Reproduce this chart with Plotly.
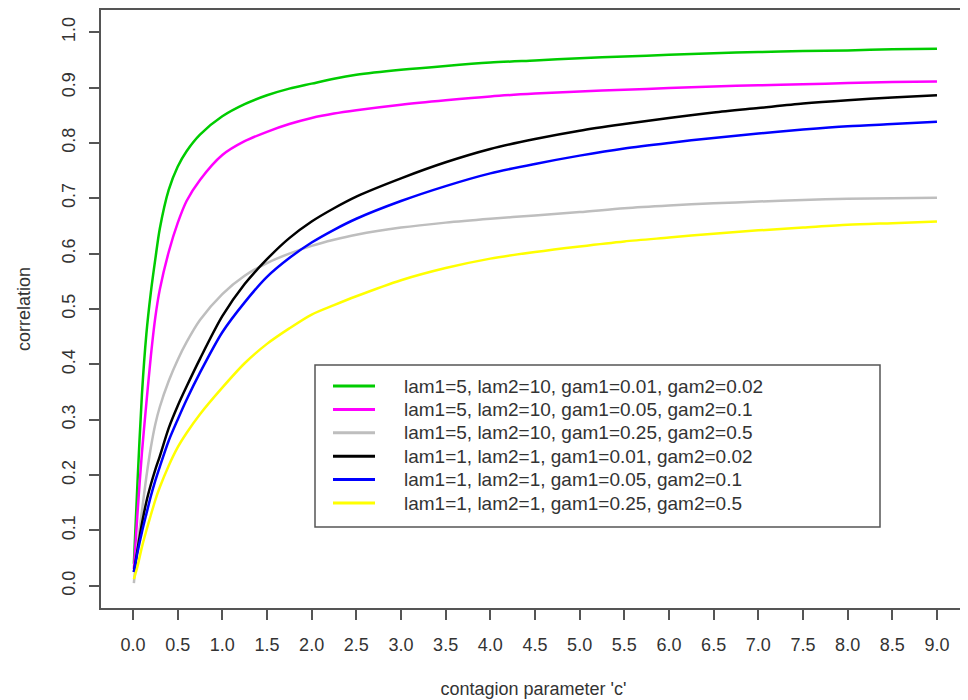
import plotly.graph_objects as go

# ---------------- data ----------------
c_values = [0.01, 0.05, 0.1, 0.15, 0.2, 0.25, 0.3, 0.4, 0.5, 0.6, 0.75, 1.0, 1.25, 1.5, 1.75,
            2.0, 2.25, 2.5, 3.0, 3.5, 4.0, 4.5, 5.0, 5.5, 6.0, 6.5, 7.0, 7.5, 8.0, 8.5, 9.0]

corr_l5_10_g001_002 = [0.04, 0.185, 0.345, 0.455, 0.53, 0.59, 0.645, 0.715, 0.757, 0.785, 0.815,
                       0.848, 0.87, 0.886, 0.898, 0.907, 0.916, 0.923, 0.932, 0.939, 0.945,
                       0.949, 0.953, 0.956, 0.959, 0.962, 0.964, 0.966, 0.967, 0.969, 0.970]
corr_l5_10_g005_01 = [0.03, 0.13, 0.24, 0.33, 0.415, 0.485, 0.535, 0.603, 0.655, 0.695, 0.733,
                      0.778, 0.803, 0.82, 0.834, 0.845, 0.853, 0.859, 0.869, 0.877, 0.884,
                      0.889, 0.893, 0.896, 0.899, 0.902, 0.904, 0.906, 0.908, 0.910, 0.911]
corr_l5_10_g025_05 = [0.005, 0.07, 0.135, 0.197, 0.25, 0.292, 0.323, 0.37, 0.408, 0.44, 0.48,
                      0.527, 0.56, 0.583, 0.6, 0.614, 0.625, 0.634, 0.647, 0.656, 0.663,
                      0.669, 0.675, 0.682, 0.687, 0.691, 0.694, 0.697, 0.699, 0.700, 0.701]
corr_l1_1_g001_002 = [0.025, 0.065, 0.112, 0.152, 0.183, 0.21, 0.234, 0.285, 0.325, 0.36, 0.41,
                      0.487, 0.545, 0.59, 0.628, 0.658, 0.682, 0.703, 0.736, 0.765, 0.789,
                      0.807, 0.822, 0.834, 0.845, 0.855, 0.863, 0.871, 0.877, 0.882, 0.886]
corr_l1_1_g005_01 = [0.025, 0.06, 0.097, 0.13, 0.162, 0.19, 0.215, 0.262, 0.3, 0.336, 0.385,
                     0.458, 0.512, 0.558, 0.592, 0.62, 0.643, 0.663, 0.695, 0.722, 0.745,
                     0.762, 0.777, 0.79, 0.80, 0.809, 0.817, 0.824, 0.83, 0.834, 0.838]
corr_l1_1_g025_05 = [0.012, 0.035, 0.07, 0.1, 0.128, 0.155, 0.178, 0.217, 0.25, 0.276, 0.31,
                     0.358, 0.402, 0.437, 0.465, 0.49, 0.507, 0.523, 0.552, 0.574, 0.591,
                     0.603, 0.613, 0.622, 0.629, 0.636, 0.642, 0.647, 0.652, 0.655, 0.658]

series_labels = [
    "lam1=5, lam2=10, gam1=0.01, gam2=0.02",
    "lam1=5, lam2=10, gam1=0.05, gam2=0.1",
    "lam1=5, lam2=10, gam1=0.25, gam2=0.5",
    "lam1=1, lam2=1, gam1=0.01, gam2=0.02",
    "lam1=1, lam2=1, gam1=0.05, gam2=0.1",
    "lam1=1, lam2=1, gam1=0.25, gam2=0.5",
]
series_values = [corr_l5_10_g001_002, corr_l5_10_g005_01, corr_l5_10_g025_05,
                 corr_l1_1_g001_002, corr_l1_1_g005_01, corr_l1_1_g025_05]
series_colors = ["#00CC00", "#FF00FF", "#BEBEBE", "#000000", "#0000FF", "#FFFF00"]

x_tick_values = [i * 0.5 for i in range(19)]
x_tick_labels = ["%.1f" % v for v in x_tick_values]
y_tick_values = [i / 10 for i in range(11)]
y_tick_labels = ["%.1f" % v for v in y_tick_values]

x_title = "contagion parameter 'c'"
y_title = "correlation"

# ---------------- figure ----------------
# the page body has an 8px margin, so the figure is 8px smaller on each axis
OFF = 8
W, H = 960, 692
ML, MR, MT, MB = 93, 2, 2, 92
FONT = "Liberation Sans, Arial, sans-serif"
TXT = "#333333"
AXC = "#555555"

fig = go.Figure()
for name, vals, col in zip(series_labels, series_values, series_colors):
    fig.add_trace(go.Scatter(x=c_values, y=vals, mode="lines", name=name,
                             line=dict(color=col, width=2.5, shape="spline", smoothing=0.8),
                             showlegend=False, hoverinfo="skip"))

def px_x(p):
    return (p - OFF - ML) / (W - ML - MR)

def px_y(p):
    return (H - MB - (p - OFF)) / (H - MT - MB)

# legend drawn as a boxed key (R-style legend)
shapes = [dict(type="rect", xref="paper", yref="paper",
               x0=px_x(315), x1=px_x(880), y0=px_y(527), y1=px_y(365),
               line=dict(color=AXC, width=1.5), fillcolor="white", layer="above")]
annotations = []
row0, dy = 386, 23.4
for i, (name, col) in enumerate(zip(series_labels, series_colors)):
    yy = px_y(row0 + i * dy)
    shapes.append(dict(type="line", xref="paper", yref="paper",
                       x0=px_x(333), x1=px_x(375), y0=yy, y1=yy,
                       line=dict(color=col, width=3), layer="above"))
    annotations.append(dict(text=name, xref="paper", yref="paper", x=px_x(402), y=yy,
                            xanchor="left", yanchor="middle", showarrow=False,
                            font=dict(family=FONT, size=19, color=TXT)))

fig.update_layout(
    width=W, height=H,
    margin=dict(l=ML, r=MR, t=MT, b=MB, autoexpand=False),
    paper_bgcolor="white", plot_bgcolor="white",
    font=dict(family=FONT, size=18, color=TXT),
    shapes=shapes, annotations=annotations,
    showlegend=False,
)
fig.update_xaxes(range=[-0.358, 9.325], tickmode="array", tickvals=x_tick_values,
                 ticktext=x_tick_labels, ticks="outside", ticklen=10, tickwidth=1.5,
                 tickcolor=AXC, showline=True, linecolor=AXC, linewidth=1.5, mirror=True,
                 showgrid=False, zeroline=False, ticklabelstandoff=10,
                 tickfont=dict(size=18, color=TXT),
                 title=dict(text=x_title, standoff=28, font=dict(size=18, color=TXT)))
fig.update_yaxes(range=[-0.04, 1.04], tickmode="array", tickvals=y_tick_values,
                 ticktext=y_tick_labels, ticks="outside", ticklen=10, tickwidth=1.5,
                 tickcolor=AXC, showline=True, linecolor=AXC, linewidth=1.5, mirror=True,
                 showgrid=False, zeroline=False, tickangle=-90, ticklabelstandoff=7,
                 tickfont=dict(size=18, color=TXT),
                 title=dict(text=y_title, standoff=24, font=dict(size=18, color=TXT)))

fig.write_html("out.html")
